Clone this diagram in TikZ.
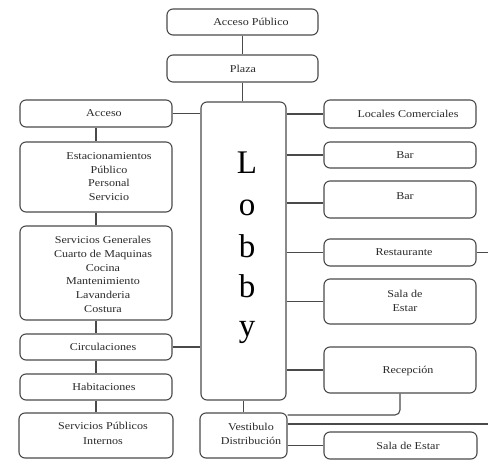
\documentclass[tikz,border=0pt]{standalone}
\usepackage{fontspec}
\setmainfont{Liberation Serif}[FakeStretch=1.15]
\newfontfamily\lobbyfont{Liberation Serif}
\definecolor{boxgray}{HTML}{4A4A4A}
\definecolor{txtgray}{HTML}{2A2A2A}
\begin{document}
\begin{tikzpicture}[x=1pt,y=-1pt,
  bx/.style={draw=boxgray, line width=1.1pt, rounded corners=6pt, inner sep=0pt, fill=white},
  txt/.style={font=\fontsize{10.5}{13.7}\selectfont, align=center, inner sep=0pt, text=txtgray},
  big/.style={font=\lobbyfont\fontsize{33}{40}\selectfont, inner sep=0pt, anchor=base, text=black},
  ln/.style={draw=boxgray, line width=1.1pt}]
\path[fill=white,use as bounding box] (0,0) rectangle (488,462);
\newcommand\mybox[5]{\node[bx, minimum width=#4pt, minimum height=#5pt] (#1) at (#2,#3) {};}
% top
\mybox{ap}{242.5}{22}{151}{26}
\node[txt] (apt) at (251,22) {Acceso Público};
\mybox{plaza}{242.5}{68.5}{151}{27}
\node[txt] (plazat) at (243,68.5) {Plaza};
% left column
\mybox{acceso}{96}{113.5}{152}{27}
\node[txt] (accesot) at (104,113.5) {Acceso};
\mybox{estac}{96}{177}{152}{70}
\node[txt] (estact) at (109,176.5) {Estacionamientos\\Público\\Personal\\Servicio};
\mybox{servgen}{96}{273}{152}{94}
\node[txt] (servgent) at (103,274.5) {Servicios Generales\\Cuarto de Maquinas\\Cocina\\Mantenimiento\\Lavanderia\\Costura};
\mybox{circ}{96}{347}{152}{26}
\node[txt] (circt) at (103,347) {Circulaciones};
\mybox{habit}{96}{387}{152}{26}
\node[txt] (habitt) at (104,387) {Habitaciones};
\mybox{spi}{96}{435.5}{154}{45}
\node[txt, font=\fontsize{10.5}{15}\selectfont] (spit) at (103,433) {Servicios Públicos\\Internos};
% lobby
\mybox{lobby}{243.5}{251}{85}{298}
\node[big] (l1) at (247,174) {L};
\node[big] (l2) at (247,216) {o};
\node[big] (l3) at (247,258) {b};
\node[big] (l4) at (247,298) {b};
\node[big] (l5) at (247,337) {y};
\mybox{vest}{243.5}{435.5}{87}{45}
\node[txt] (vestt) at (251,434) {Vestibulo\\Distribución};
% right column
\mybox{locales}{400}{114}{152}{28}
\node[txt] (localest) at (408,114) {Locales Comerciales};
\mybox{bara}{400}{155}{152}{26}
\node[txt] (barat) at (405,155) {Bar};
\mybox{barb}{400}{199.5}{152}{37}
\node[txt] (barbt) at (405,196) {Bar};
\mybox{rest}{400}{252.5}{152}{27}
\node[txt] (restt) at (404,252.5) {Restaurante};
\mybox{sala}{400}{301.5}{152}{45}
\node[txt] (salat) at (405,301) {Sala de\\Estar};
\mybox{recep}{400}{370}{152}{46}
\node[txt] (recept) at (408,371) {Recepción};
\mybox{salab}{400.5}{445.5}{153}{27}
\node[txt] (salabt) at (408,445.5) {Sala de Estar};
\coordinate (restend) at (488,252.5);
\coordinate (vestend) at (488,424);
% connectors
\draw[ln] (ap.south) -- (plaza.north -| ap.south);
\draw[ln] (plaza.south) -- (plaza.south |- lobby.north);
\draw[ln] (acceso.east) -- (acceso.east -| lobby.west);
\draw[ln] (acceso) -- (estac);
\draw[ln] (estac) -- (servgen);
\draw[ln] (servgen) -- (circ);
\draw[ln] (circ) -- (habit);
\draw[ln] (habit) -- (spi);
\draw[ln] (circ.east) -- (circ.east -| lobby.west);
\draw[ln] (locales.west -| lobby.east) -- (locales.west);
\draw[ln] (bara.west -| lobby.east) -- (bara.west);
\draw[ln] (lobby.east |- 0,203) -- (barb.west |- 0,203);
\draw[ln] (rest.west -| lobby.east) -- (rest.west);
\draw[ln] (sala.west -| lobby.east) -- (sala.west);
\draw[ln] (recep.west -| lobby.east) -- (recep.west);
\draw[ln] (rest.east) -- (restend);
\draw[ln] (lobby.south) -- (lobby.south |- vest.north);
\draw[ln, rounded corners=5pt] (recep.south) -- (recep.south |- 0,415) -- (vest.east |- 0,415);
\draw[ln] (vest.east |- vestend) -- (vestend);
\draw[ln] (vest.east |- salab.west) -- (salab.west);
\end{tikzpicture}
\end{document}
